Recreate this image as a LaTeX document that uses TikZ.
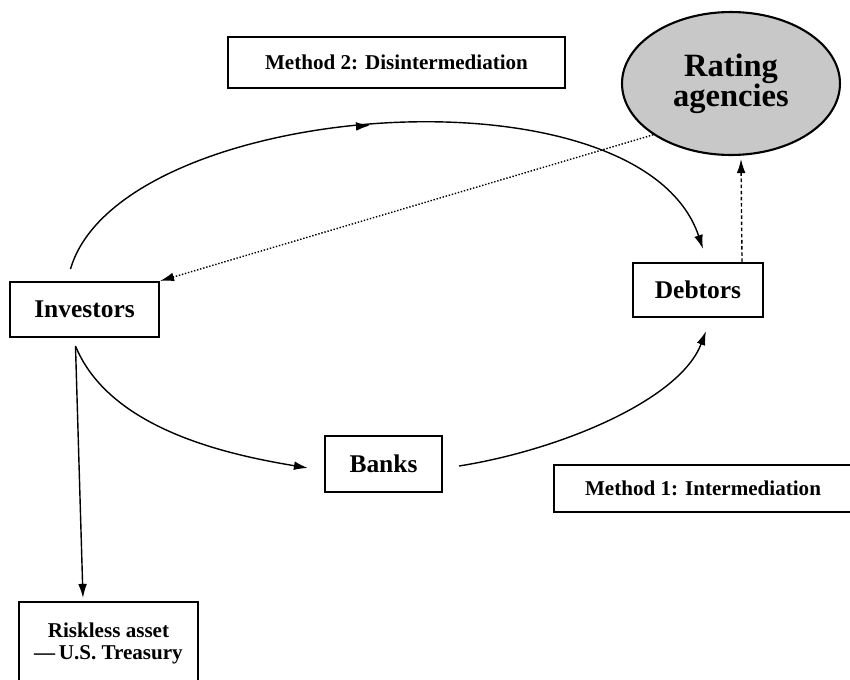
\documentclass[tikz,border=0pt]{standalone}
\usepackage{fontspec}
\setmainfont{Liberation Serif}
\usepackage{tikz}
\usetikzlibrary{calc, positioning, arrows.meta, shapes.geometric, decorations.markings}
\definecolor{stipple}{RGB}{200,200,200}

\begin{document}
\begin{tikzpicture}[
  x=0.02cm, y=-0.02cm,
  box/.style={draw, line width=1.2pt, inner sep=0pt, align=center, font=\fontsize{14.5}{16}\selectfont\bfseries},
  tag/.style={draw, line width=1.2pt, inner sep=0pt, align=center, font=\fontsize{12}{13}\selectfont\bfseries},
  flow/.style={line width=0.8pt, -{Latex[length=8pt,width=5pt]}},
  midarrow/.style={decoration={markings, mark=at position 0.48 with {\arrow{Latex[length=8pt,width=5pt]}}}, postaction=decorate}
]
\useasboundingbox (0,0) rectangle (850,680);
\node[box, minimum width=2.98cm, minimum height=1.1cm] (inv) at (84.5,309.5) {Investors};
\node[box, minimum width=2.6cm, minimum height=1.08cm] (debt) at (698,290) {Debtors};
\node[box, minimum width=2.34cm, minimum height=1.12cm] (bank) at (383.5,464) {Banks};
\node[tag, minimum width=6.74cm, minimum height=1.02cm] (meth2) at (396.5,62.5) {Method 2: Disintermediation};
\node[tag, minimum width=5.96cm, minimum height=0.94cm] (meth1) at (703,488.5) {Method 1: Intermediation};
\node[tag, minimum width=3.58cm, minimum height=1.66cm] (risk) at (108.5,643.5) {Riskless asset\\\textemdash\,U.S. Treasury};
\node[ellipse, draw, line width=1.2pt, fill=stipple, minimum width=4.36cm, minimum height=2.86cm, inner sep=0pt, align=center, font=\fontsize{18.5}{17}\selectfont\bfseries] (rate) at (731,83.5) {Rating\\agencies};

% method 2: investors lend to debtors directly
\draw[flow, midarrow] ($(inv.north)+(-14,-12)$) .. controls (120,100) and (640,60) .. ($(debt.north)+(5,-13)$);
% method 1: through the banks
\draw[flow] ($(inv.south)+(-9,8)$) .. controls (110,430) and (230,455) .. ($(bank.west)+(-16,4)$);
\draw[flow] ($(bank.east)+(16,2)$) .. controls (560,450) and (680,400) .. ($(debt.south)+(8,13)$);
\draw[flow] ($(inv.south)+(-9,8)$) -- ($(risk.north)+(-25.5,-3)$);
% ratings
\draw[flow, densely dotted] (rate.south west) -- (inv.north east);
\draw[flow, dash pattern=on 2pt off 1.5pt] ($(debt.north east)+(-22,0)$) -- ($(rate.south)+(10,3)$);
\end{tikzpicture}
\end{document}
